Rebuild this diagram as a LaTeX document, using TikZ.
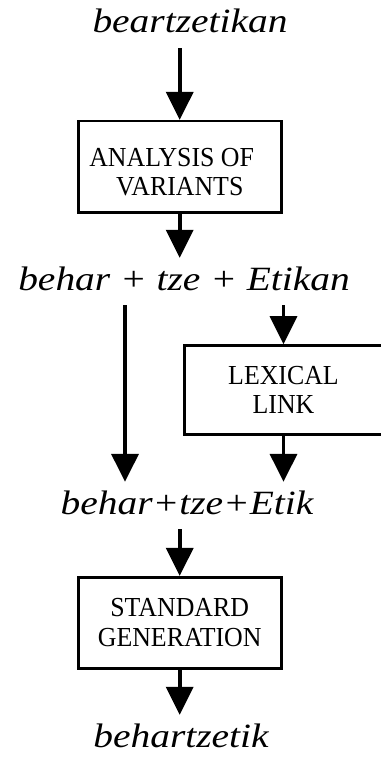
\documentclass[tikz,border=0pt]{standalone}
\usepackage{fontspec}
\setmainfont{Liberation Serif}
\newfontfamily\wordfont{Liberation Serif Italic}[FakeStretch=1.16]
\newfontfamily\boxfont{Liberation Serif}[FakeStretch=0.94]
\usepackage{tikz}
\usetikzlibrary{arrows.meta}
\tikzset{
  word/.style={font=\wordfont\fontsize{34}{40}\selectfont, inner sep=8pt,
    text height=24pt, text depth=7pt},
  stage/.style={draw, line width=2.6pt, minimum width=203pt, minimum height=91pt,
    align=center, font=\boxfont\fontsize{27.5}{29.5}\selectfont},
  flow/.style={line width=3.6pt, -{Triangle[length=28pt, width=27pt]}},
}
\begin{document}
\begin{tikzpicture}[x=1pt, y=-1pt]
\useasboundingbox (0,0) rectangle (380,757);
\node[word] (beart) at (190,24.5) {beartzetikan};
\node[stage, text height=58pt, text depth=0pt] (anal) at (179.7,166.7) {ANALYSIS OF\hspace*{16pt}\\VARIANTS};
\node[word] (split) at (184,281.5) {behar + tze + Etikan};
\node[stage, minimum width=198pt, minimum height=89pt] (lex) at (283.5,390) {LEXICAL\\LINK};
\node[word] (link) at (187,505.5) {behar+tze+Etik};
\node[stage] (std) at (179.7,622.7) {STANDARD\\GENERATION};
\node[word] (gen) at (181,738.5) {behartzetik};
\coordinate (lft) at (125,0);
% connectors
\draw[flow] (beart.south -| anal.north) -- (anal.north);
\draw[flow] (anal.south) -- (anal.south |- split.north);
\draw[flow] (split.south -| lft) -- (lft |- link.north);
\draw[flow] (split.south -| lex.north) -- (lex.north);
\draw[flow] (lex.south) -- (lex.south |- link.north);
\draw[flow] (link.south -| std.north) -- (std.north);
\draw[flow] (std.south) -- (std.south |- gen.north);
\end{tikzpicture}
\end{document}
